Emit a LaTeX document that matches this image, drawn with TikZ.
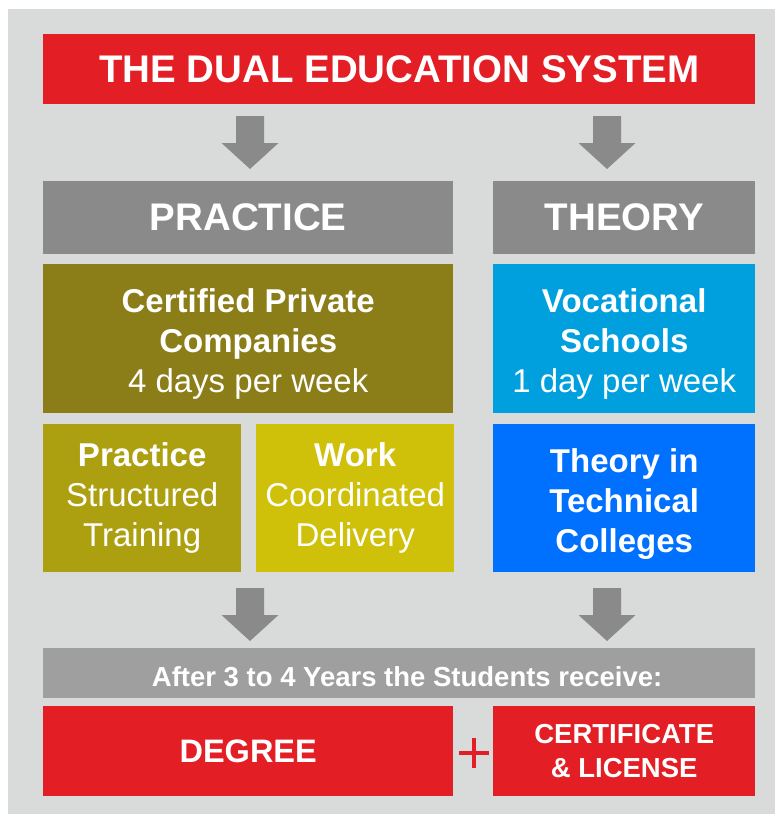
\documentclass[tikz,border=0pt]{standalone}
\usepackage{fontspec}
\setmainfont{Liberation Sans}
\definecolor{bgpanel}{HTML}{D9DADA}
\definecolor{dred}{HTML}{E31E24}
\definecolor{hgray}{HTML}{8A8A8A}
\definecolor{bargray}{HTML}{9E9F9E}
\definecolor{olive}{HTML}{8B7D18}
\definecolor{pyellow}{HTML}{ACA010}
\definecolor{wyellow}{HTML}{CFC00A}
\definecolor{vblue}{HTML}{00A0DF}
\definecolor{tblue}{HTML}{0070FF}
\newcommand{\blockarrow}[3]{%
  \fill[hgray] (#1-14,#2) -- (#1+14,#2) -- (#1+14,#2+27) -- (#1+28.5,#2+27)
    -- (#1,#3) -- (#1-28.5,#2+27) -- (#1-14,#2+27) -- cycle;}
\begin{document}
\begin{tikzpicture}[x=1pt,y=-1pt,
  box/.style={anchor=north west, inner sep=0pt, text=white, align=center},
  bodyfont/.style={font=\fontsize{33}{40}\selectfont}]
\useasboundingbox (0,0) rectangle (775,814);
\fill[white] (0,0) rectangle (775,814);
\fill[bgpanel] (8,9) rectangle (775,814);
% title
\node[box, fill=dred, minimum width=712pt, minimum height=70pt,
  font=\fontsize{38.5}{46}\selectfont\bfseries] (title) at (43,34) {THE DUAL EDUCATION SYSTEM};
% headers
\node[box, fill=hgray, minimum width=410pt, minimum height=73pt,
  font=\fontsize{38.5}{46}\selectfont\bfseries] (practice) at (43,181) {PRACTICE};
\node[box, fill=hgray, minimum width=262pt, minimum height=73pt,
  font=\fontsize{38.5}{46}\selectfont\bfseries] (theory) at (493,181) {THEORY};
% second row
\node[box, fill=olive, minimum width=410pt, minimum height=149pt, bodyfont] (cert) at (43,264) {};
\node[text=white, align=center, bodyfont, inner sep=0pt] (certtxt) at ([yshift=-5pt]cert.center)
  {\textbf{Certified Private}\\\textbf{Companies}\\4 days per week};
\node[box, fill=vblue, minimum width=262pt, minimum height=149pt, bodyfont] (voc) at (493,264) {};
\node[text=white, align=center, bodyfont, inner sep=0pt] (voctxt) at ([yshift=-5pt]voc.center)
  {\textbf{Vocational}\\\textbf{Schools}\\1 day per week};
% third row
\node[box, fill=pyellow, minimum width=198pt, minimum height=148pt, bodyfont] (prac) at (43,424)
  {\textbf{Practice}\\Structured\\Training};
\node[box, fill=wyellow, minimum width=198pt, minimum height=148pt, bodyfont] (work) at (256,424)
  {\textbf{Work}\\Coordinated\\Delivery};
\node[box, fill=tblue, minimum width=262pt, minimum height=148pt, bodyfont] (tech) at (493,424) {};
\node[text=white, align=center, bodyfont, inner sep=0pt] (techtxt) at ([yshift=-6pt]tech.center)
  {\textbf{Theory in}\\\textbf{Technical}\\\textbf{Colleges}};
% bar
\node[box, fill=bargray, minimum width=712pt, minimum height=50pt] (bar) at (43,648) {};
\node[text=white, inner sep=0pt, font=\fontsize{27.5}{32}\selectfont\bfseries] (bartxt)
  at ([xshift=8pt,yshift=-3pt]bar.center) {After 3 to 4 Years the Students receive:};
% bottom
\node[box, fill=dred, minimum width=410pt, minimum height=90pt,
  font=\fontsize{32.5}{40}\selectfont\bfseries] (degree) at (43,706) {DEGREE};
\node[box, fill=dred, minimum width=262pt, minimum height=90pt,
  font=\fontsize{27.5}{34}\selectfont\bfseries] (certlic) at (493,706) {CERTIFICATE\\\& LICENSE};
% plus
\coordinate (plus) at (474,753);
\draw[dred, line width=3.6pt] ([xshift=-15pt]plus) -- ([xshift=15pt]plus);
\draw[dred, line width=3.6pt] ([yshift=-15pt]plus) -- ([yshift=15pt]plus);
% arrows
\blockarrow{250}{116}{169}
\blockarrow{607}{116}{169}
\blockarrow{250}{588}{641}
\blockarrow{607}{588}{641}
\end{tikzpicture}
\end{document}
